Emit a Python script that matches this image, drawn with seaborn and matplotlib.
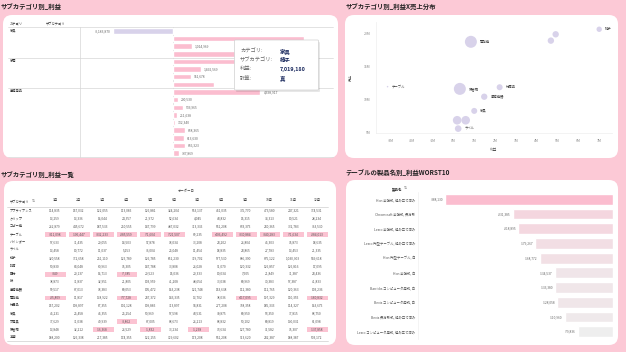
import numpy as np
import pandas as pd
import matplotlib
matplotlib.use("Agg")
import matplotlib.pyplot as plt
import seaborn as sns
from matplotlib.patches import FancyBboxPatch
from matplotlib.lines import Line2D
from matplotlib.colors import ListedColormap, LinearSegmentedColormap, Normalize

# ---------------- data ----------------
# top-left: profit by category / sub-category
bar_cat = ["家具"] * 4 + ["家電"] * 4 + ["事務用品"] * 9
bar_sub = ["テーブル", "椅子", "家具", "本棚",
           "コピー機", "事務機器", "付属品", "電話機",
           "アプライアンス", "クリップ", "バインダー", "ラベル", "画材", "紙", "封筒", "文房具", "保管箱"]
bar_profit = [-3183870, 7019180, 1014969, 4128475,
              4217376, 1492569, 961678, 2190923,
              4698917, 290530, 536965, 211638, 132340, 638365, 613630, 636323, 337869]

# top-right: profit x sales bubbles
sc_names = ["椅子", "コピー機", "アプライアンス", "電話機", "テーブル", "保管箱",
            "付属品", "事務機器", "家具", "紙", "文房具", "ラベル"]
sc_labels = ["椅子", "", "", "電話機", "テーブル", "保管箱",
             "付属品", "事務機器", "家具", "", "", "ラベル"]
sc_profit = [7.00e6, 4.91e6, 4.68e6, 0.84e6, -3.16e6, 0.31e6,
             2.22e6, 1.48e6, 1.00e6, 0.18e6, 0.59e6, 0.23e6]
sc_sales = [20.72e6, 19.95e6, 18.98e6, 18.80e6, 11.94e6, 11.60e6,
            11.85e6, 10.40e6, 8.23e6, 6.80e6, 6.80e6, 5.52e6]
sc_qty = [730, 1020, 1020, 3600, 60, 3600, 900, 1000, 900, 1850, 1850, 1100]

# bottom-left: monthly profit table
months = [f"{i}月" for i in range(1, 13)]
table_rows = ["アプライアンス", "クリップ", "コピー機", "テーブル", "バインダー", "ラベル", "椅子", "封筒",
              "画材", "紙", "事務機器", "電話機", "付属品", "家具", "文房具", "保管箱", "本棚"]
table_vals = [
    [114835, 157032, 122055, 113085, 126881, 324204, 563137, 461035, 335770, 473580, 247321, 374531],
    [13259, 13336, 16044, 24357, 21972, 52634, 4045, 43832, 15315, 34313, 10521, 28234],
    [262879, 445672, 187533, 250555, 147799, 487032, 313335, 561208, 633375, 230365, 332783, 363530],
    [-311098, -106447, -332233, -285559, -71604, -721507, 69235, -406492, -330884, -340283, -71634, -284013],
    [57633, 31435, 29055, 14503, 97878, 78034, 33208, 23202, 26804, 45303, 76873, 18635],
    [13458, 10772, 11037, 5153, 36004, 25048, 11454, 18835, 23865, 27783, 13453, 21335],
    [320558, 372658, 251110, 125789, 126785, 862230, 319702, 577530, 686390, 675122, 1030303, 549618],
    [50830, 64048, 60963, 76305, 147788, 33808, 26028, 91070, 120332, 126857, 126816, 17095],
    [-349, 20137, 16713, -7385, 29523, 15036, 20333, 10034, 7605, 21849, 31387, 23436],
    [38873, 31837, 32951, 21805, 103959, 41208, 48654, 33038, 80969, 70383, 57387, 41833],
    [59517, 67013, 78383, 80053, 105472, 163238, 121748, 153638, 112380, 112765, 120363, 103236],
    [-25809, 11817, 138922, -77728, 237372, 143335, 13702, 38036, -417095, 197329, 110355, -180832],
    [157202, 109897, 87355, 101128, 109885, 313897, 94831, 277208, 358358, 185333, 114327, 163675],
    [45231, 25458, 46355, 25254, 50969, 57598, 43531, 30875, 80950, 53350, 37815, 68750],
    [37629, 31038, 49939, -3862, 67005, 68673, 26213, 68832, 50102, 80819, 130031, 61098],
    [13848, 32212, -16368, 26529, -1832, 33234, -1258, 73634, 127780, 71582, 75307, -137858],
    [188200, 126338, 217385, 174355, 122155, 729602, 173208, 561208, 913620, 232387, 188387, 503172],
]

# bottom-right: worst 10 table products
worst_names = ["Hon 会議机, 組み立て済み", "Chromcraft 会議机, 長方形", "Lesro 会議机, 組み立て済み",
               "Lesro 円型テーブル, 組み立て済み", "Hon 円型テーブル, 白", "Hon 会議机, 白",
               "Barricks コンピュータ用机, 白", "Bevis コンピュータ用机, 白",
               "Bevis 長方形机, 組み立て済み", "Lesro コンピュータ用机, 組み立て済み"]
worst_vals = [-388130, -231385, -218895, -179267, -168772, -134537, -133380, -128058, -110960, -79836]

# ---------------- style ----------------
sns.set_theme(style="white")
plt.rcParams["font.family"] = ["Noto Sans CJK JP", "DejaVu Sans"]

BG = "#fcc9d6"
PINK = "#fbbdcf"
LAV = "#d8d2ea"
HL = "#fbc3d2"
GRID = "#d6d6d6"

W, H = 626, 352
fig = plt.figure(figsize=(W / 100, H / 100), dpi=100)
fig.patch.set_facecolor(BG)


def ax_at(x0, y0, x1, y1):
    a = fig.add_axes([x0 / W, 1 - y1 / H, (x1 - x0) / W, (y1 - y0) / H])
    a.set_facecolor("none")
    return a


def ftext(x, y, s, **kw):
    kw.setdefault("va", "center")
    return fig.text(x / W, 1 - y / H, s, **kw)


def hline(x0, x1, y, color=GRID, lw=0.5):
    fig.add_artist(Line2D([x0 / W, x1 / W], [1 - y / H, 1 - y / H], color=color, lw=lw, zorder=2))


def vline(x, y0, y1, color=GRID, lw=0.5):
    fig.add_artist(Line2D([x / W, x / W], [1 - y0 / H, 1 - y1 / H], color=color, lw=lw, zorder=2))


def panel(x0, y0, x1, y1, fc="white", ec="none", z=-5, r=0.09):
    p = FancyBboxPatch((x0 / 100, (H - y1) / 100), (x1 - x0) / 100, (y1 - y0) / 100,
                       boxstyle=f"round,pad=0,rounding_size={r}", transform=fig.dpi_scale_trans,
                       fc=fc, ec=ec, lw=0.5, zorder=z)
    fig.add_artist(p)


# panels
panel(3, 15, 338, 158)
panel(345, 15, 618, 158)
panel(4, 181, 336, 345)
panel(346, 180, 618, 345)

TITLE = dict(fontsize=4.6, fontweight="bold", color="#222222", ha="left")
ftext(1, 7, "サブカテゴリ別_利益", **TITLE)
ftext(346, 7, "サブカテゴリ別_利益X売上分布", **TITLE)
ftext(1, 174, "サブカテゴリ別_利益一覧", **TITLE)
ftext(345, 172, "テーブルの製品名別_利益WORST10", **TITLE)

# ---------------- top-left bar chart ----------------
ftext(10, 23, "カテゴリ", fontsize=2.3, color="#333333")
ftext(46, 23, "サブカテゴリ", fontsize=2.3, color="#333333")
for y in [26.7, 57.6, 88.2, 157]:
    hline(8, 333, y)
vline(80, 26.7, 157)
for cat, y in zip(["家具", "家電", "事務用品"], [30, 61, 91]):
    ftext(10, y, cat, fontsize=2.3, color="#333333")

df_bar = pd.DataFrame({"カテゴリ": bar_cat, "サブカテゴリ": bar_sub, "利益": bar_profit})
df_bar["符号"] = np.where(df_bar["利益"] < 0, "負", "正")
X0, X1, Y0, Y1 = 80, 333, 27, 157
XMIN, XMAX = -4.96e6, 8.58e6
ax1 = ax_at(X0, Y0, X1, Y1)
sns.barplot(data=df_bar, x="利益", y="サブカテゴリ", hue="符号", palette={"負": LAV, "正": PINK},
            orient="h", width=0.72, dodge=False, legend=False, saturation=1, ax=ax1)
ax1.set_xlim(XMIN, XMAX)
ax1.set_ylim(16.5, -0.5)
ax1.axvline(0, color=GRID, lw=0.5, zorder=0)
ax1.axis("off")

# tooltip box (pixel extent)
TIP = (234.5, 40, 318.5, 90)
n_rows = len(df_bar)
for i, v in enumerate(df_bar["利益"]):
    off = 1.6e5
    lx = v + off if v >= 0 else v - off
    px = X0 + (lx - XMIN) / (XMAX - XMIN) * (X1 - X0)
    py = Y0 + (i + 0.5) / n_rows * (Y1 - Y0)
    # labels lying under the tooltip are hidden by it
    if v >= 0 and px + 20 > TIP[0] and px < TIP[2] and TIP[1] - 2 < py < TIP[3] + 2:
        continue
    ax1.text(lx, i, f"{v:,}", ha="left" if v >= 0 else "right",
             va="center", fontsize=2.4, color="#666666")

panel(TIP[0] + 1.5, TIP[1] + 2, TIP[2] + 1.5, TIP[3] + 2, fc="#00000018", z=3, r=0.01)
panel(*TIP, fc="white", ec="#cfcfcf", z=4, r=0.01)
tips = [("カテゴリ:", "家具"), ("サブカテゴリ:", "椅子"), ("利益:", "7,019,180"), ("計算:", "真")]
for (k, v), y in zip(tips, [51, 60, 69, 78.3]):
    t1 = ftext(240, y, k, fontsize=3.8, color="#666666", ha="left")
    t2 = ftext(280, y, v, fontsize=3.9, color="#1b2a5e", fontweight="bold", ha="left")
    t1.set_zorder(5)
    t2.set_zorder(5)

# ---------------- top-right scatter ----------------
df_sc = pd.DataFrame({"サブカテゴリ": sc_names, "利益": sc_profit, "売上": sc_sales, "数量": sc_qty})
ax2 = ax_at(375.7, 22, 611.7, 133)
sns.scatterplot(data=df_sc, x="利益", y="売上", size="数量", sizes=(0, 82.8), size_norm=(0, 4000),
                color=LAV, edgecolor="none", alpha=1, legend=False, ax=ax2)
ax2.set_xlim(-3.73e6, 7.6e6)
ax2.set_ylim(4.85e6, 21.83e6)
xt = np.arange(-3, 8) * 1e6
ax2.set_xticks(xt)
ax2.set_xticklabels([f"{int(v / 1e6)}M" for v in xt])
yt = np.array([5, 10, 15, 20]) * 1e6
ax2.set_yticks(yt)
ax2.set_yticklabels([f"{int(v / 1e6)}M" for v in yt])
ax2.tick_params(length=0, labelsize=2.5, labelcolor="#888888", pad=4)
ax2.set_xlabel("利益", fontsize=2.6, color="#555555", labelpad=4)
ax2.set_ylabel("売上", fontsize=2.6, color="#555555", labelpad=8)
for s in ["top", "right"]:
    ax2.spines[s].set_visible(False)
for s in ["left", "bottom"]:
    ax2.spines[s].set_color("#eeeeee")
    ax2.spines[s].set_linewidth(0.5)
for lab, x, y, q in zip(sc_labels, sc_profit, sc_sales, sc_qty):
    if lab:
        r = np.sqrt(q / 100.0)
        ax2.annotate(lab, (x, y), xytext=((r + 3) * 0.72, 0), textcoords="offset points",
                     fontsize=2.4, color="#444444", va="center", ha="left")

# ---------------- bottom-left table ----------------
tbl = pd.DataFrame(table_vals, index=table_rows, columns=months)
neg = (tbl < 0).astype(int)
annot = np.array([[f"{v:,}" for v in row] for row in table_vals])
ax3 = ax_at(43, 206.5, 329, 341)
sns.heatmap(neg, annot=annot, fmt="", cmap=ListedColormap(["white", HL]), vmin=0, vmax=1,
            cbar=False, linewidths=0.8, linecolor="white", xticklabels=True, yticklabels=True,
            annot_kws={"fontsize": 2.3, "color": "#555555"}, ax=ax3)
ax3.xaxis.tick_top()
ax3.set_xticklabels(months, rotation=0)
ax3.set_yticklabels(table_rows, rotation=0, ha="left")
ax3.tick_params(axis="x", length=0, labelsize=2.4, labelcolor="#444444", pad=3)
ax3.tick_params(axis="y", length=0, labelsize=2.3, labelcolor="#333333", pad=(43 - 10) * 0.72)
ax3.set_xlabel("")
ax3.set_ylabel("")
ftext(186, 191, "オーダー日", fontsize=2.4, color="#444444", ha="center")
ftext(10, 201, "サブカテゴリ", fontsize=2.3, color="#333333", ha="left")
ftext(32, 201, "⇅", fontsize=2.6, color="#666666", ha="left", family="DejaVu Sans")
hline(7, 328, 206.5, color="#cfcfcf", lw=0.5)
hline(7, 328, 341, color="#cfcfcf", lw=0.5)

# ---------------- bottom-right worst 10 ----------------
cmap_w = LinearSegmentedColormap.from_list("w", [PINK, "#eeeeee"])
norm_w = Normalize(vmin=min(worst_vals), vmax=max(worst_vals))
pal_w = {n: cmap_w(norm_w(v)) for n, v in zip(worst_names, worst_vals)}
df_w = pd.DataFrame({"製品名": worst_names, "利益": worst_vals})
ax4 = ax_at(418, 192, 612.7, 339)
sns.barplot(data=df_w, x="利益", y="製品名", hue="製品名", palette=pal_w, orient="h",
            width=0.73, legend=False, saturation=1, ax=ax4)
ax4.set_xlim(-451400, 0)
ax4.set_ylim(9.5, -0.5)
ax4.set_xticks([])
ax4.set_xlabel("")
ax4.set_ylabel("")
ax4.tick_params(axis="y", length=0, labelsize=2.4, labelcolor="#555555", pad=2)
for s in ["top", "right", "bottom"]:
    ax4.spines[s].set_visible(False)
ax4.spines["left"].set_color("#f0f0f0")
ax4.spines["left"].set_linewidth(0.5)
for i, v in enumerate(worst_vals):
    ax4.text(v - 5000, i, f"{v:,}", ha="right", va="center", fontsize=2.3, color="#666666")
ftext(397, 189, "製品名", fontsize=2.5, color="#333333", ha="center", fontweight="bold")
ftext(404, 188, "⇅", fontsize=2.6, color="#666666", ha="left", family="DejaVu Sans")

fig.savefig("out.png", dpi=100, facecolor=BG)
